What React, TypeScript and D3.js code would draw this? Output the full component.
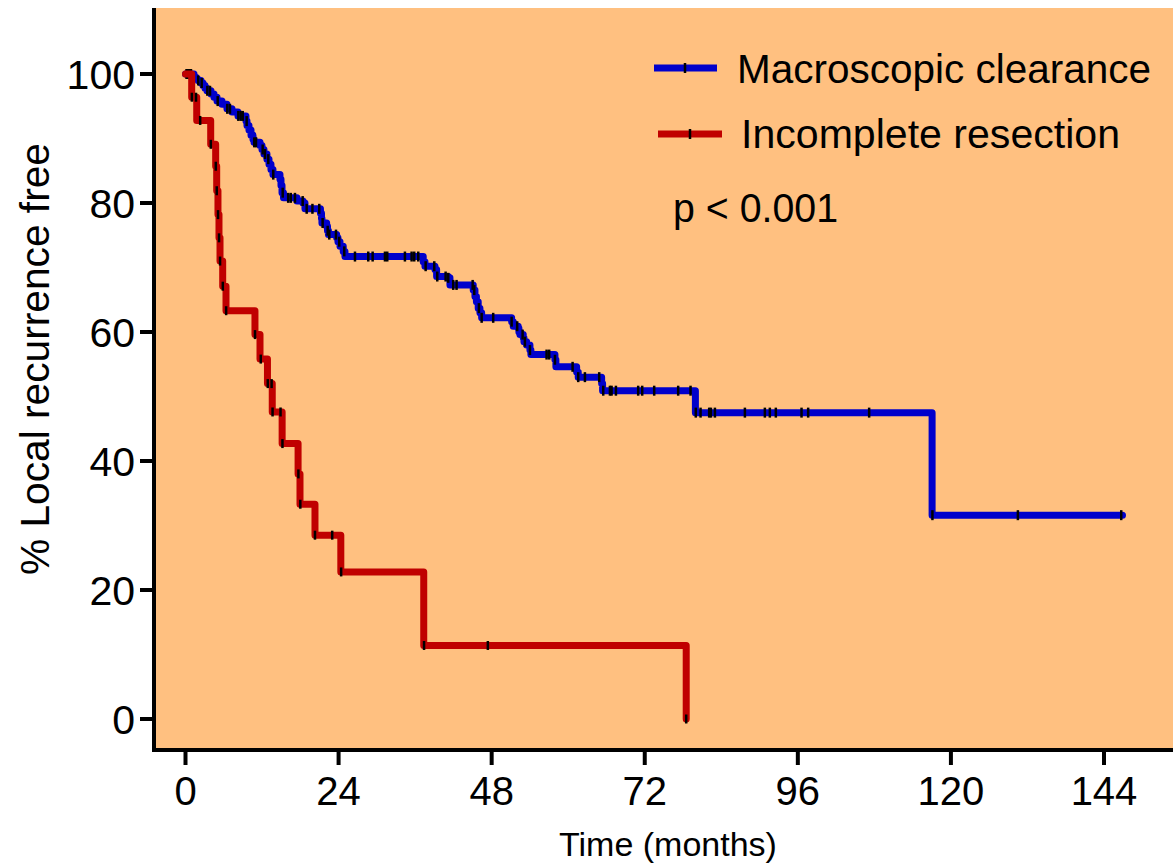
import React from "react";
import * as d3 from "d3";

// ---------- data ----------
const xTicks = [0, 24, 48, 72, 96, 120, 144];
const yTicks = [0, 20, 40, 60, 80, 100];

// Macroscopic clearance: drop times (months) and survival (%) after each drop
const blueTimes = [
  1.33, 1.65, 1.96, 2.43, 2.74, 3.06, 3.37, 4.0, 4.47, 4.94, 5.72, 6.5, 7.29, 8.23,
  9.48, 9.64, 9.95, 10.27, 10.58, 10.74, 11.68, 11.99, 12.3, 12.77, 13.09, 13.4, 13.71,
  14.81, 14.97, 15.13, 15.36, 17.48, 18.42, 18.73, 21.16, 21.32, 21.39, 22.13, 22.26,
  22.41, 23.7, 23.9, 24.22, 24.73, 25.0, 37.27, 37.54, 39.11, 39.37, 41.19, 41.46,
  45.11, 45.38, 45.61, 45.89, 46.16, 46.43, 51.13, 51.38, 52.16, 52.27, 52.43, 52.95,
  53.06, 53.48, 54.0, 54.15, 57.92, 58.07, 61.32, 61.57, 65.24, 65.39, 79.94, 117.05,
];
const blueLevels = [
  99.5, 99.2, 99.0, 98.6, 98.2, 97.8, 97.4, 96.9, 96.4, 95.8, 95.3, 94.6, 94.1, 93.5,
  92.7, 92.0, 91.3, 90.5, 89.9, 89.4, 88.9, 88.3, 87.6, 86.8, 86.0, 85.2, 84.4,
  83.7, 82.7, 81.6, 80.8, 80.3, 80.0, 79.1, 78.4, 77.6, 76.9, 76.4, 75.7,
  75.1, 74.6, 74.0, 73.3, 72.5, 71.7, 70.9, 70.2, 69.7, 68.6, 68.4, 67.3,
  66.5, 65.5, 64.7, 63.7, 63.0, 62.2, 61.6, 60.9, 60.6, 60.0, 59.6, 59.1,
  58.5, 58.0, 57.2, 56.5, 55.7, 54.6, 53.8, 53.0, 52.0, 50.9, 47.5, 31.6,
];
const blueEnd = 146.9;
const blueCensor = [
  0.16, 0.39, 0.63, 0.86, 2.0, 2.54, 3.42, 3.84, 5.05, 6.55, 6.97, 8.28, 8.65, 8.97,
  9.59, 10.78, 11.05, 12.1, 12.46, 12.98, 13.76, 15.24, 16.1, 16.5, 17.16, 18.37, 19.0,
  19.9, 20.97, 21.5, 22.29, 22.54, 23.59, 24.1, 24.89, 26.57, 28.65, 29.34, 31.27,
  31.63, 34.4, 35.45, 35.86, 36.49, 37.65, 39.0, 39.47, 40.78, 41.19, 41.97, 42.5,
  45.02, 45.27, 46.0, 46.43, 48.24, 51.13, 52.0, 52.85, 53.21, 54.0, 56.61, 57.02,
  57.92, 60.69, 61.57, 62.62, 64.86, 65.49, 66.54, 66.8, 67.48, 70.97, 71.6, 73.48,
  77.24, 79.18, 80.0, 80.75, 82.1, 82.37, 83.0, 87.7, 90.83, 91.61, 92.55, 96.58,
  97.62, 107.18, 117.1, 130.5, 146.7,
];

// Incomplete resection
const redTimes = [
  0.97, 1.76, 3.95, 4.73, 4.89, 5.09, 5.25, 5.41, 5.83, 6.35, 10.89, 11.68, 12.85,
  13.6, 15.15, 17.65, 17.95, 20.3, 24.35, 37.35, 78.5,
];
const redLevels = [
  96.4, 92.8, 89.1, 85.7, 81.9, 78.2, 74.6, 71.0, 67.1, 63.3, 59.6, 55.8, 52.0,
  47.6, 42.7, 38.0, 33.3, 28.5, 22.8, 11.4, 0,
];
const redCensor = [
  1.0, 1.65, 2.3, 3.97, 4.75, 4.9, 5.1, 5.26, 5.42, 5.85, 6.37, 10.9, 11.8, 12.9,
  13.5, 13.65, 14.9, 15.2, 17.7, 18.0, 20.3, 23.0, 24.4, 37.4, 47.4, 78.5,
];

const seriesNames = ["Macroscopic clearance", "Incomplete resection"];
const pText = "p < 0.001";

// ---------- layout ----------
const W = 1173;
const H = 866;
const plotLeft = 154;
const plotTop = 8;
const plotBottom = 750;
const FONT = "'Liberation Sans', Arial, Helvetica, sans-serif";
const BG = "#FFC080";
const BLUE = "#0000CC";
const RED = "#C00000";

const x = d3.scaleLinear().domain([0, 144]).range([185.5, 1104]);
const y = d3.scaleLinear().domain([0, 100]).range([719, 74]);

type Pt = [number, number];

function stepPoints(times: number[], levels: number[], end?: number): Pt[] {
  const pts: Pt[] = [[0, 100]];
  times.forEach((t, i) => pts.push([t, levels[i]]));
  if (end !== undefined) pts.push([end, levels[levels.length - 1]]);
  return pts;
}

function survivalAt(times: number[], levels: number[], t: number): number {
  let s = 100;
  for (let i = 0; i < times.length; i++) {
    if (times[i] <= t) s = levels[i];
  }
  return s;
}

const stepLine = d3
  .line<Pt>()
  .x((d) => x(d[0]))
  .y((d) => y(d[1]))
  .curve(d3.curveStepAfter);

export default function App() {
  const bluePath = stepLine(stepPoints(blueTimes, blueLevels, blueEnd)) || "";
  const redPath = stepLine(stepPoints(redTimes, redLevels)) || "";

  return (
    <svg
      width={W}
      height={H}
      viewBox={`0 0 ${W} ${H}`}
      style={{ display: "block", position: "absolute", left: 0, top: 0, background: "#fff" }}
      fontFamily={FONT}
    >
      <rect x={plotLeft} y={plotTop} width={W - plotLeft} height={plotBottom - plotTop} fill={BG} />

      {/* curves */}
      <path d={bluePath} fill="none" stroke={BLUE} strokeWidth={7} strokeLinejoin="round" strokeLinecap="round" />
      {blueCensor.map((t, i) => {
        const cx = x(t);
        const cy = y(survivalAt(blueTimes, blueLevels, t));
        return <line key={"bc" + i} x1={cx} x2={cx} y1={cy - 5} y2={cy + 5} stroke="#000" strokeWidth={2.5} />;
      })}
      <path d={redPath} fill="none" stroke={RED} strokeWidth={7} strokeLinejoin="round" strokeLinecap="round" />
      {redCensor.map((t, i) => {
        const cx = x(t);
        const cy = y(survivalAt(redTimes, redLevels, t));
        return <line key={"rc" + i} x1={cx} x2={cx} y1={cy - 4.5} y2={cy + 4.5} stroke="#000" strokeWidth={2.5} />;
      })}

      {/* axes */}
      <line x1={plotLeft} x2={plotLeft} y1={plotTop} y2={plotBottom + 2} stroke="#000" strokeWidth={4} />
      <line x1={plotLeft - 2} x2={W} y1={plotBottom} y2={plotBottom} stroke="#000" strokeWidth={4} />
      {yTicks.map((v) => (
        <g key={"yt" + v}>
          <line x1={140} x2={plotLeft} y1={y(v)} y2={y(v)} stroke="#000" strokeWidth={4} />
          <text x={135} y={y(v) + 14.5} textAnchor="end" fontSize={41} fill="#000">
            {v}
          </text>
        </g>
      ))}
      {xTicks.map((v) => (
        <g key={"xt" + v}>
          <line x1={x(v)} x2={x(v)} y1={plotBottom} y2={765} stroke="#000" strokeWidth={4} />
          <text x={x(v)} y={805} textAnchor="middle" fontSize={40} fill="#000">
            {v}
          </text>
        </g>
      ))}
      <text x={668} y={856} textAnchor="middle" fontSize={34} fill="#000">
        Time (months)
      </text>
      <text
        transform="translate(49,359) rotate(-90)"
        textAnchor="middle"
        fontSize={40}
        fill="#000"
        textLength={432}
        lengthAdjust="spacingAndGlyphs"
      >
        % Local recurrence free
      </text>

      {/* legend */}
      <line x1={654} x2={717} y1={68} y2={68} stroke={BLUE} strokeWidth={7} />
      <line x1={685} x2={685} y1={63} y2={73} stroke="#000" strokeWidth={2.5} />
      <text x={737} y={83} fontSize={40} fill="#000" textLength={414} lengthAdjust="spacingAndGlyphs">
        {seriesNames[0]}
      </text>
      <line x1={658} x2={722} y1={134} y2={134} stroke={RED} strokeWidth={7} />
      <line x1={690} x2={690} y1={129} y2={139} stroke="#000" strokeWidth={2.5} />
      <text x={741} y={148} fontSize={40} fill="#000" textLength={379} lengthAdjust="spacingAndGlyphs">
        {seriesNames[1]}
      </text>
      <text x={673} y={222} fontSize={40} fill="#000" textLength={165} lengthAdjust="spacingAndGlyphs">
        {pText}
      </text>
    </svg>
  );
}
